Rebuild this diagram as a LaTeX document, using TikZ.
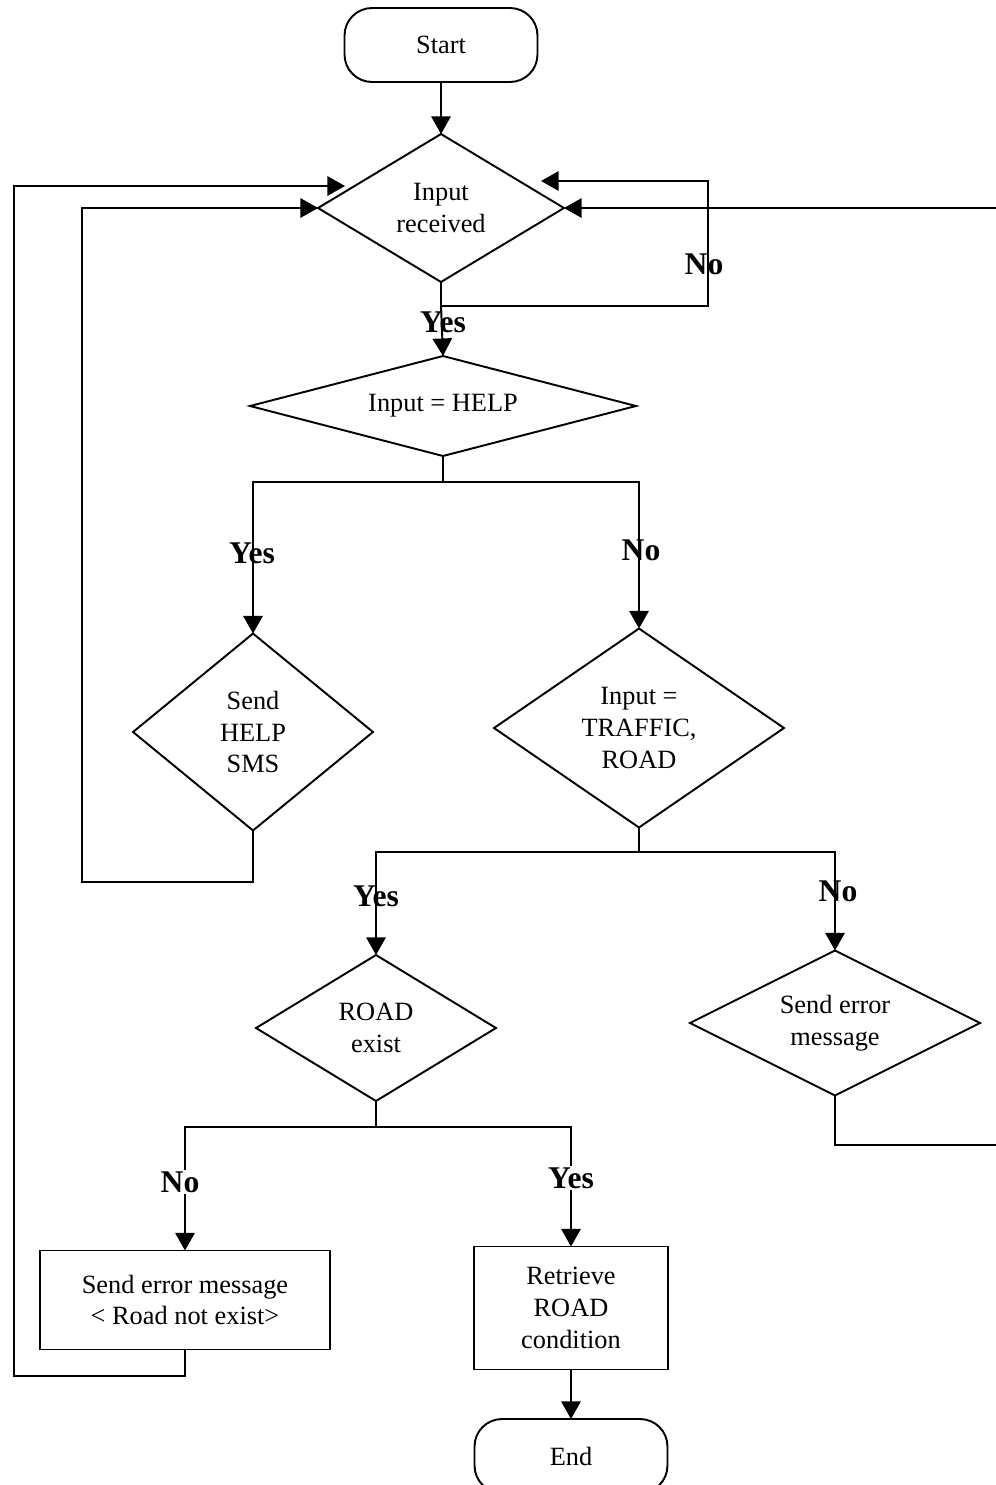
\documentclass[tikz,border=0pt]{standalone}
\usepackage{fontspec}
\setmainfont{Liberation Serif}
\usetikzlibrary{shapes.geometric,arrows.meta}
\begin{document}
\begin{tikzpicture}[x=0.02cm,y=-0.02cm,
  line width=1.1pt,
  arr/.style={-{Triangle[length=10pt,width=11pt]}},
  txt/.style={font=\fontsize{15}{18}\selectfont, align=center},
  dec/.style={draw, diamond, txt, inner sep=0pt, outer sep=0pt},
  proc/.style={draw, rectangle, txt, inner sep=0pt, outer sep=0pt},
  term/.style={draw, rectangle, rounded corners=0.55cm, txt, inner sep=0pt, outer sep=0pt, minimum width=3.86cm, minimum height=1.48cm},
  lbl/.style={font=\fontsize{18}{20}\selectfont\bfseries, inner sep=1pt}]
\useasboundingbox (0,0) rectangle (996,1485);
\clip (0,0) rectangle (996,1485);

\node[term] (start) at (441,45) {Start};
\node[dec, aspect=1.66, minimum width=4.92cm, minimum height=2.96cm] (inrec) at (441,208) {Input\\received};
\node[dec, aspect=3.86, minimum width=7.72cm, minimum height=2.0cm] (hlp) at (443,406) {Input = HELP};
\node[dec, aspect=1.22, minimum width=4.8cm, minimum height=3.94cm] (sms) at (253,732) {Send\\HELP\\SMS};
\node[dec, aspect=1.46, minimum width=5.8cm, minimum height=3.98cm] (trf) at (639,728) {Input =\\TRAFFIC,\\ROAD};
\node[dec, aspect=1.64, minimum width=4.8cm, minimum height=2.92cm] (rdx) at (376,1028) {ROAD\\exist};
\node[dec, aspect=2.0, minimum width=5.8cm, minimum height=2.9cm] (err) at (835,1023) {Send error\\message};
\node[proc, minimum width=5.8cm, minimum height=1.98cm] (box1) at (185,1300) {Send error message\\< Road not exist>};
\node[proc, minimum width=3.88cm, minimum height=2.46cm] (box2) at (571,1308) {Retrieve\\ROAD\\condition};
\node[term] (end) at (571,1456) {End};

\coordinate (noR) at (708,306);
\coordinate (tipA) at (541,181);
\coordinate (tipB) at (345,186);
\coordinate (j1) at (443,482);
\coordinate (j2) at (639,852);
\coordinate (j3) at (376,1127);
\coordinate (c1) at (82,882);
\coordinate (c2) at (1002,1145);
\coordinate (c3) at (14,1376);

% connectors
\draw[arr] (start) -- (inrec);
\draw[arr] (inrec.south) |- (noR) |- (tipA);
\draw[arr] (inrec.south |- noR) -- (hlp.north);
\draw[arr] (hlp.south) -- (j1) -| (sms.north);
\draw[arr] (j1) -| (trf.north);
\draw[arr] (sms.south) |- (c1) |- (inrec.west);
\draw[arr] (trf.south) -- (j2) -| (rdx.north);
\draw[arr] (j2) -| (err.north);
\draw[arr] (err.south) |- (c2) |- (inrec.east);
\draw[arr] (rdx.south) -- (j3) -| (box1.north);
\draw[arr] (j3) -| (box2.north);
\draw[arr] (box1.south) |- (c3) |- (tipB);
\draw[arr] (box2) -- (end);

% labels
\node[lbl] (l1) at (704,264) {No};
\node[lbl] (l2) at (443,322) {Yes};
\node[lbl] (l3) at (252,553) {Yes};
\node[lbl] (l4) at (641,550) {No};
\node[lbl] (l5) at (376,896) {Yes};
\node[lbl] (l6) at (838,891) {No};
\node[lbl, fill=white] (l7) at (180,1182) {No};
\node[lbl, fill=white] (l8) at (571,1178) {Yes};
\end{tikzpicture}
\end{document}
